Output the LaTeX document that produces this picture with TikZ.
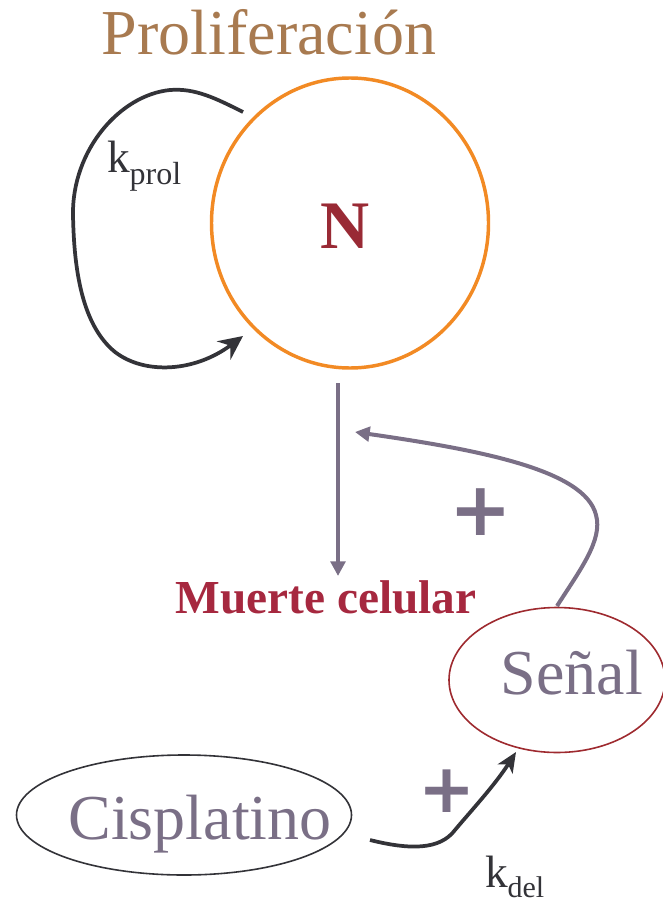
\documentclass[tikz,border=0pt]{standalone}
\usepackage{fontspec}
\setmainfont{Liberation Serif}
\newfontfamily\plusfont{DejaVu Sans}
\usetikzlibrary{arrows.meta,shapes.geometric}
\definecolor{prolbrown}{HTML}{A87A50}
\definecolor{circorange}{HTML}{F28A24}
\definecolor{ndark}{HTML}{992A35}
\definecolor{arrowgray}{HTML}{333338}
\definecolor{purplegray}{HTML}{7A6F86}
\definecolor{muerte}{HTML}{A6283F}
\definecolor{senalred}{HTML}{9E2A2F}
\tikzset{
  txt/.style={inner sep=0pt, outer sep=0pt},
  ovalbox/.style={ellipse, draw, line width=1.2pt, inner sep=0pt},
  darkarrow/.style={draw=arrowgray, line width=2.8pt},
  purplearrow/.style={draw=purplegray, line width=3pt, -{Triangle[length=11pt,width=11pt]}},
  plussign/.style={txt, text=purplegray, font=\plusfont\bfseries\fontsize{56}{62}\selectfont},
}
\begin{document}
\begin{tikzpicture}[x=0.75pt,y=-0.75pt]
\useasboundingbox (0,0) rectangle (663,902);
% title
\node[txt, anchor=base, text=prolbrown, font=\fontsize{48}{56}\selectfont] (prol) at (269,55) {Proliferación};
% N circle
\node[ellipse, draw=circorange, line width=2.6pt, minimum width=207.75pt, minimum height=217.5pt, inner sep=0pt] (N) at (350,223) {};
\node[txt, anchor=base, text=ndark, font=\bfseries\fontsize{51}{58}\selectfont] (Nlab) at (345,248) {N};
% loop
\coordinate (loopS) at (243,112);
\coordinate (loopE) at (243,336);
\draw[darkarrow, -{Stealth[length=18pt,width=17pt,inset=6pt]}] (loopS) .. controls (215,98) and (195,88) .. (170,90) .. controls (120,95) and (72,150) .. (73,215) .. controls (74,270) and (82,325) .. (115,352) .. controls (145,375) and (195,372) .. (loopE);
\node[txt, anchor=base west, text=arrowgray, font=\fontsize{34}{40}\selectfont] (kprol) at (107,173) {k\raisebox{-9pt}{\fontsize{24}{28}\selectfont prol}};
% death arrow
\coordinate (deathS) at (338,383);
\coordinate (deathE) at (338,576);
\draw[purplearrow] (deathS) -- (deathE);
\node[txt, anchor=base, text=muerte, font=\bfseries\fontsize{35.5}{42}\selectfont] (muerte) at (326,613) {Muerte celular};
% Senal
\node[ovalbox, draw=senalred, minimum width=162pt, minimum height=108.75pt] (senal) at (557,680) {};
\node[txt, anchor=base, text=purplegray, font=\fontsize{48}{56}\selectfont] (senalT) at (572,694) {Señal};
\coordinate (senalTop) at (557,606);
\coordinate (feedE) at (355,432);
\draw[purplearrow] (senalTop) .. controls (580,570) and (603,540) .. (596,515) .. controls (585,470) and (480,450) .. (feedE);
\node[plussign] (plus1) at (481,512) {+};
% Cisplatino
\node[ovalbox, draw=arrowgray, minimum width=251.25pt, minimum height=90pt] (cis) at (184,815) {};
\node[txt, anchor=base, text=purplegray, font=\fontsize{48}{56}\selectfont] (cisT) at (200,839) {Cisplatino};
\coordinate (cisS) at (370,840);
\coordinate (cisE) at (516,752);
\draw[darkarrow, -{Stealth[length=15pt,width=13pt,inset=4pt]}] (cisS) .. controls (410,850) and (440,850) .. (455,830) .. controls (470,812) and (495,785) .. (cisE);
\node[plussign, font=\plusfont\bfseries\fontsize{51}{56}\selectfont] (plus2) at (447,791) {+};
\node[txt, anchor=base west, text=arrowgray, font=\fontsize{34}{40}\selectfont] (kdel) at (485,887) {k\raisebox{-7.5pt}{\fontsize{22.5}{26}\selectfont del}};
\end{tikzpicture}
\end{document}
